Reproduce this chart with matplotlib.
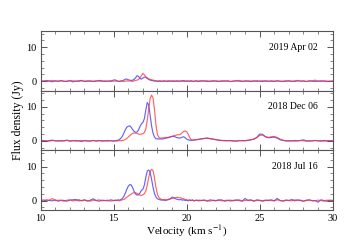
import matplotlib
matplotlib.use("Agg")
import matplotlib.pyplot as plt
import numpy as np
from matplotlib.ticker import MultipleLocator

plt.rcParams['font.family'] = 'serif'
plt.rcParams['font.serif'] = ['Liberation Serif', 'DejaVu Serif']
plt.rcParams['mathtext.fontset'] = 'stix'

# velocity channels (km/s): coarse on the baseline, finer across the maser features
vel_lo = [10.0, 10.2, 10.4, 10.6, 10.8, 11.0, 11.2, 11.4, 11.6, 11.8, 12.0, 12.2, 12.4,
          12.6, 12.8, 13.0, 13.2, 13.4, 13.6, 13.8, 14.0, 14.2, 14.4, 14.6, 14.8, 15.0]
vel_mid = [15.1, 15.2, 15.3, 15.4, 15.5, 15.6, 15.7, 15.8, 15.9, 16.0,
           16.1, 16.2, 16.3, 16.4, 16.5, 16.6, 16.7, 16.8, 16.9, 17.0,
           17.1, 17.2, 17.3, 17.4, 17.5, 17.6, 17.7, 17.8, 17.9, 18.0,
           18.1, 18.2, 18.3, 18.4, 18.5, 18.6, 18.7, 18.8, 18.9, 19.0,
           19.1, 19.2, 19.3, 19.4, 19.5, 19.6, 19.7, 19.8, 19.9, 20.0,
           20.1, 20.2, 20.3, 20.4, 20.5, 20.6, 20.7, 20.8, 20.9, 21.0]
vel_hi = [21.2, 21.4, 21.6, 21.8, 22.0, 22.2, 22.4, 22.6, 22.8, 23.0, 23.2, 23.4, 23.6,
          23.8, 24.0, 24.2, 24.4, 24.6, 24.8, 25.0, 25.2, 25.4, 25.6, 25.8, 26.0, 26.2,
          26.4, 26.6, 26.8, 27.0, 27.2, 27.4, 27.6, 27.8, 28.0, 28.2, 28.4, 28.6, 28.8,
          29.0, 29.2, 29.4, 29.6, 29.8, 30.0]
velocity = vel_lo + vel_mid + vel_hi

dates = ['2019 Apr 02', '2018 Dec 06', '2018 Jul 16']

# flux density (Jy)
apr_blue = ([0.1, -0.1, 0.2, 0.0, -0.2, 0.1, 0.0, 0.2, -0.1, 0.0, 0.1, -0.2, 0.0,
             0.1, 0.2, -0.1, 0.0, 0.1, -0.1, 0.0, 0.2, 0.1, -0.1, 0.0, 0.1, 0.3] +
            [0.4, 0.1, 0.0, -0.1, 0.0, 0.1, 0.3, 0.6, 0.6, 0.4,
             0.3, 0.2, 0.3, 0.5, 1.0, 1.6, 1.4, 0.8, 0.6, 0.9,
             1.2, 1.1, 0.8, 0.5, 0.3, 0.2, 0.1, 0.0, 0.1, -0.1,
             0.0, 0.1, -0.1, 0.0, 0.1, 0.0, -0.1, 0.1, 0.0, 0.1,
             -0.1, 0.0, 0.1, 0.0, -0.1, 0.1, 0.0, 0.2, 0.0, -0.1,
             0.1, 0.0, 0.1, -0.1, 0.0, 0.1, 0.0, -0.1, 0.1, 0.0] +
            [0.1, -0.1, 0.0, 0.1, 0.0, -0.1, 0.1, 0.0, 0.1, -0.1, 0.0, 0.1, 0.0,
             -0.1, 0.1, 0.0, -0.1, 0.0, 0.1, 0.0, -0.1, 0.1, 0.0, 0.0, -0.1, 0.1,
             0.0, -0.1, 0.0, 0.1, 0.0, -0.1, 0.1, 0.0, 0.0, -0.1, 0.1, 0.0, -0.1,
             0.0, 0.1, 0.0, -0.1, 0.0, 0.0])
apr_red = ([0.0, 0.1, -0.1, 0.1, 0.2, 0.0, -0.1, 0.1, 0.0, -0.1, 0.2, 0.1, 0.0,
            -0.1, 0.1, 0.0, 0.1, -0.1, 0.0, 0.1, 0.0, -0.1, 0.1, 0.0, -0.1, 0.0] +
           [0.0, 0.1, -0.1, 0.0, 0.1, 0.0, -0.1, 0.0, 0.1, 0.0,
            0.1, 0.0, -0.1, 0.1, 0.2, 0.3, 0.5, 0.9, 1.6, 2.3,
            1.9, 1.3, 0.9, 0.7, 0.5, 0.4, 0.3, 0.2, 0.1, 0.0,
            0.1, -0.1, 0.0, 0.1, -0.1, 0.0, 0.1, 0.0, -0.1, 0.0,
            0.1, 0.0, -0.1, 0.1, 0.0, 0.0, 0.1, -0.1, 0.0, 0.1,
            0.0, -0.1, 0.1, 0.0, -0.1, 0.0, 0.1, 0.0, -0.1, 0.1] +
           [0.0, 0.1, -0.1, 0.0, 0.1, 0.0, -0.1, 0.1, 0.0, -0.1, 0.0, 0.1, 0.2,
            0.0, -0.1, 0.1, 0.0, 0.1, -0.1, 0.0, 0.1, 0.0, -0.1, 0.1, 0.0, 0.1,
            -0.1, 0.0, 0.1, 0.0, -0.1, 0.1, 0.2, 0.0, 0.1, -0.1, 0.0, 0.1, 0.3,
            0.0, -0.1, 0.1, 0.0, -0.1, 0.0])

dec_blue = ([0.1, 0.0, -0.1, 0.1, 0.2, 0.0, -0.1, 0.1, 0.0, 0.2, -0.1, 0.0, 0.1,
             0.0, -0.2, 0.1, 0.0, -0.1, 0.1, 0.0, 0.1, -0.1, 0.0, 0.1, 0.0, -0.1] +
            [0.0, 0.1, 0.2, 0.4, 0.8, 1.4, 2.3, 3.3, 4.0, 4.3,
             4.4, 4.0, 3.3, 2.8, 2.5, 2.6, 3.2, 4.2, 5.0, 5.4,
             6.5, 9.0, 11.3, 10.6, 7.5, 4.3, 2.2, 1.1, 0.6, 0.6,
             0.5, 0.6, 0.5, 0.6, 0.7, 0.8, 0.9, 1.0, 1.2, 1.3,
             1.3, 1.2, 1.0, 0.9, 0.8, 0.9, 1.1, 1.2, 0.9, 0.5,
             0.3, 0.2, 0.1, 0.2, 0.3, 0.3, 0.4, 0.4, 0.5, 0.6] +
            [0.7, 0.8, 0.6, 0.5, 0.3, 0.2, 0.1, 0.1, 0.0, 0.1, 0.0, -0.1, 0.0,
             0.1, 0.0, 0.1, 0.3, 0.5, 1.0, 2.0, 1.9, 1.2, 0.9, 1.0, 1.1, 0.8,
             0.3, 0.1, 0.0, -0.1, 0.0, 0.1, 0.0, 0.1, 0.3, 0.0, -0.1, 0.0, 0.1,
             0.0, -0.1, 0.1, 0.0, -0.1, 0.0])
dec_red = ([0.0, 0.1, 0.0, -0.1, 0.1, 0.0, 0.1, -0.1, 0.0, 0.1, 0.0, 0.1, -0.1,
            0.0, 0.1, 0.0, -0.1, 0.0, 0.1, -0.1, 0.0, 0.1, 0.0, -0.1, 0.1, 0.0] +
           [0.0, -0.1, 0.0, 0.1, 0.0, 0.1, 0.2, 0.4, 0.7, 1.1,
            1.5, 1.9, 2.2, 2.3, 2.3, 2.2, 2.0, 1.9, 2.0, 2.1,
            2.4, 3.5, 6.0, 9.5, 12.5, 13.5, 12.6, 9.0, 4.5, 1.8,
            1.0, 0.8, 0.8, 0.9, 0.9, 1.0, 1.0, 1.1, 1.2, 1.3,
            1.5, 1.6, 1.7, 1.8, 1.8, 2.0, 2.4, 2.8, 2.9, 2.7,
            2.0, 1.0, 0.4, 0.2, 0.2, 0.3, 0.3, 0.4, 0.5, 0.5] +
           [0.7, 0.8, 0.7, 0.5, 0.4, 0.2, 0.1, 0.0, 0.1, 0.0, -0.1, 0.0, 0.1,
            0.0, 0.1, 0.2, 0.3, 0.5, 0.9, 1.6, 1.7, 1.2, 1.0, 1.2, 1.3, 1.0,
            0.5, 0.2, 0.0, 0.1, 0.0, -0.1, 0.0, 0.1, 0.0, -0.1, 0.1, 0.0, 0.1,
            0.0, 0.1, -0.1, 0.0, 0.1, 0.0])

jul_blue = ([0.1, -0.2, 0.2, 0.0, -0.1, 0.2, -0.2, 0.1, 0.0, -0.2, 0.1, 0.2, 0.3,
             -0.1, 0.0, 0.2, -0.2, 0.1, 0.5, 0.0, -0.2, 0.1, 0.0, -0.1, 0.2, 0.0] +
            [0.1, 0.0, 0.2, 0.1, 0.3, 0.6, 1.2, 2.2, 3.3, 4.2,
             4.7, 4.6, 3.8, 2.7, 1.9, 1.6, 1.7, 2.2, 3.0, 3.3,
             4.5, 6.8, 8.7, 9.0, 8.3, 6.2, 3.8, 2.0, 1.0, 0.5,
             0.3, 0.2, 0.1, 0.2, 0.0, 0.1, 0.2, 0.3, 0.6, 1.0,
             0.9, 0.6, 0.4, 0.3, 0.2, 0.3, 0.1, 0.2, 0.0, 0.1,
             -0.1, 0.1, 0.0, 0.2, -0.1, 0.0, 0.1, -0.1, 0.1, 0.0] +
            [0.1, -0.2, 0.2, 0.0, -0.1, 0.1, 0.2, -0.2, 0.0, 0.1, -0.1, 0.2, 0.0,
             -0.2, 0.6, 0.0, 0.1, -0.2, 0.2, 0.0, -0.1, 0.1, 0.0, 0.2, -0.1, 0.6,
             0.0, -0.2, 0.1, 0.0, 0.3, -0.1, 0.2, 0.0, -0.2, 0.1, 0.2, -0.1, 0.0,
             -0.5, 0.2, 0.0, -0.2, 0.1, 0.0])
jul_red = ([0.0, 0.2, -0.1, 0.1, 0.6, -0.1, 0.1, 0.0, -0.2, 0.1, 0.2, -0.1, 0.0,
            0.3, -0.1, 0.1, 0.0, -0.2, 0.1, 0.0, 0.2, -0.1, 0.0, 0.1, -0.2, 0.0] +
           [0.0, 0.1, 0.0, -0.1, 0.1, 0.2, 0.3, 0.6, 1.0, 1.3,
            1.6, 1.9, 2.2, 2.3, 2.3, 2.1, 1.8, 1.6, 1.5, 1.7,
            2.0, 2.8, 4.5, 6.8, 8.6, 9.2, 8.8, 6.5, 3.8, 1.8,
            0.9, 0.5, 0.3, 0.2, 0.3, 0.2, 0.3, 0.4, 0.5, 0.6,
            0.7, 0.8, 0.9, 0.9, 0.8, 0.8, 0.6, 0.5, 0.3, 0.2,
            0.1, 0.2, 0.0, 0.1, -0.1, 0.1, 0.0, 0.1, -0.1, 0.0] +
           [0.1, 0.0, -0.2, 0.1, 0.0, 0.2, -0.1, 0.0, 0.1, -0.2, 0.1, 0.0, 0.2,
            -0.1, 0.0, 0.1, 0.2, -0.1, 0.0, 0.1, -0.2, 0.0, 0.1, 0.0, -0.1, 0.2,
            0.0, -0.1, 0.1, 0.0, -0.1, 0.2, 0.0, 0.1, -0.2, 0.0, 0.1, 0.0, -0.1,
            0.1, 0.0, -0.2, 0.1, 0.0, 0.0])

blue_series = [apr_blue, dec_blue, jul_blue]
red_series = [apr_red, dec_red, jul_red]

fig, axes = plt.subplots(3, 1, sharex=True, figsize=(3.6, 2.4), dpi=100)
fig.subplots_adjust(left=0.113, right=0.924, bottom=0.125, top=0.871, hspace=0)

frame = '#555555'
for ax, date, fb, fr in zip(axes, dates, blue_series, red_series):
    ax.plot(velocity, fb, color='#3030ff', lw=0.85, alpha=0.75)
    ax.plot(velocity, fr, color='#ff3030', lw=0.85, alpha=0.75)
    ax.set_xlim(10, 30)
    ax.set_ylim(-2.8, 14.8)
    ax.xaxis.set_major_locator(MultipleLocator(5))
    ax.xaxis.set_minor_locator(MultipleLocator(1))
    ax.yaxis.set_major_locator(MultipleLocator(10))
    ax.yaxis.set_minor_locator(MultipleLocator(2))
    ax.tick_params(which='both', direction='in', top=True, right=True,
                   color=frame, labelsize=7.5, pad=3)
    ax.tick_params(which='major', length=4, width=0.7)
    ax.tick_params(which='minor', length=2, width=0.5)
    for s in ax.spines.values():
        s.set_color(frame)
        s.set_linewidth(0.8)
    ax.text(28.95, 10, date, ha='right', va='center', fontsize=7)

axes[-1].set_xlabel('Velocity (km s$^{-1}$)', fontsize=8, labelpad=0)
fig.text(0.05, 0.5, 'Flux density (Jy)', rotation=90, ha='center', va='center',
         fontsize=8.5)

fig.savefig('out.png', dpi=100)
